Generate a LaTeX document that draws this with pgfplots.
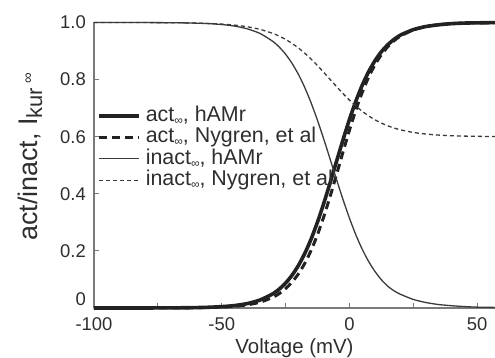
\documentclass[border=0pt]{standalone}
\usepackage{fontspec}
\setmainfont{Liberation Sans}
\usepackage{pgfplots}
\usepackage{pgfplotstable}
\pgfplotsset{compat=1.18}

\definecolor{curvedark}{HTML}{222222}
\definecolor{curvethin}{HTML}{3A3A3A}
\definecolor{axisgray}{HTML}{7A7A7A}
\definecolor{txt}{HTML}{2E2E2E}

\newcommand{\infsub}{\raisebox{-3bp}{\fontsize{12}{12}\selectfont ∞}}

% steady-state activation / inactivation of I_Kur
\pgfplotstableread{
V      actH    actN    inactH  inactN
-100   0.0000  0.0000  1.0000  1.0000
-90    0.0000  0.0000  0.9999  0.9999
-80    0.0001  0.0001  0.9998  0.9997
-70    0.0004  0.0003  0.9993  0.9992
-65    0.0008  0.0005  0.9987  0.9987
-60    0.0014  0.0009  0.9977  0.9979
-55    0.0026  0.0017  0.9960  0.9966
-50    0.0047  0.0032  0.9929  0.9944
-45    0.0085  0.0059  0.9875  0.9908
-40    0.0154  0.0110  0.9779  0.9851
-35    0.0279  0.0203  0.9616  0.9760
-30    0.0497  0.0373  0.9340  0.9619
-27.5  0.0659  0.0503  0.9142  0.9523
-25    0.0871  0.0676  0.8890  0.9408
-22.5  0.1143  0.0901  0.8574  0.9270
-20    0.1484  0.1192  0.8190  0.9109
-17.5  0.1906  0.1561  0.7726  0.8924
-15    0.2414  0.2018  0.7185  0.8717
-12.5  0.3009  0.2568  0.6573  0.8490
-10    0.3677  0.3208  0.5904  0.8249
-7.5   0.4401  0.3923  0.5200  0.8000
-5     0.5150  0.4688  0.4487  0.7751
-2.5   0.5893  0.5468  0.3796  0.7510
0      0.6600  0.6225  0.3150  0.7283
2.5    0.7239  0.6927  0.2567  0.7076
5      0.7800  0.7549  0.2061  0.6891
7.5    0.8272  0.8081  0.1633  0.6730
10     0.8660  0.8520  0.1279  0.6592
12.5   0.8974  0.8872  0.0992  0.6477
15     0.9220  0.9149  0.0765  0.6381
17.5   0.9411  0.9363  0.0600  0.6304
20     0.9560  0.9526  0.0480  0.6240
25     0.9750  0.9741  0.0300  0.6149
30     0.9860  0.9859  0.0190  0.6092
35     0.9920  0.9924  0.0120  0.6056
40     0.9960  0.9959  0.0080  0.6034
45     0.9980  0.9978  0.0050  0.6021
50     0.9988  0.9988  0.0030  0.6013
57     0.9995  0.9995  0.0020  0.6006
}\kurtable

\begin{document}
\begin{tikzpicture}
\begin{axis}[
  name=ax,
  scale only axis,
  width=401bp, height=285.5bp,
  xmin=-100, xmax=57, ymin=0, ymax=1,
  clip=false,
  axis lines=left,
  axis line style={-, draw=axisgray, line width=1.3bp},
  xtick={-100,-50,0,50}, xticklabels={-100,-50,0,50},
  minor xtick={-75,-25,25},
  ytick={0,0.2,0.4,0.6,0.8,1},
  yticklabels={\raisebox{9bp}[\height][\depth]{0},0.2,0.4,0.6,0.8,1.0},
  tick align=inside,
  major tick length=5bp, minor tick length=5bp,
  every tick/.style={draw=axisgray, line width=1bp},
  xticklabel style={font=\fontsize{18.5}{18.5}\selectfont, text=txt, anchor=base, inner sep=0pt, yshift=-22bp},
  yticklabel style={font=\fontsize{18.5}{18.5}\selectfont, text=txt, anchor=east, inner sep=0pt, xshift=-8bp},
  every axis x label/.style={at={(axis description cs:0.5,0)}, anchor=base, yshift=-45bp,
    font=\fontsize{20.5}{20.5}\selectfont, text=txt},
  every axis y label/.style={at={(axis description cs:-0.142,0.529)}, rotate=90, anchor=base,
    font=\fontsize{27}{27}\selectfont, text=txt},
  xlabel={Voltage (mV)},
  ylabel={act/inact, I\raisebox{-5bp}{\fontsize{22}{22}\selectfont kur}\hspace{4bp}\raisebox{4.5bp}{\fontsize{15}{15}\selectfont ∞}},
  legend cell align=left,
  legend image code/.code={\draw[#1] (0bp,0bp) -- (40bp,0bp);},
  legend style={at={(axis description cs:0.0075,0.708)}, anchor=north west,
    draw=none, fill=none, inner sep=0pt, row sep=2bp, column sep=5bp,
    font=\fontsize{21.5}{21.5}\selectfont, text=txt,
    nodes={inner sep=0pt, text height=15bp, text depth=4.5bp, anchor=west}},
]
\addplot[curvedark, line width=3.6bp, smooth, tension=0.4] table[x=V, y=actH] {\kurtable};
\addlegendentry{act\infsub, hAMr}
\addplot[curvedark, line width=3bp, dash pattern=on 8bp off 5bp, smooth, tension=0.4] table[x=V, y=actN] {\kurtable};
\addlegendentry{act\infsub, Nygren, et al}
\addplot[curvethin, line width=1.3bp, smooth, tension=0.4] table[x=V, y=inactH] {\kurtable};
\addlegendentry{inact\infsub, hAMr}
\addplot[curvethin, line width=1.3bp, dash pattern=on 4bp off 3bp, smooth, tension=0.4] table[x=V, y=inactN] {\kurtable};
\addlegendentry{inact\infsub, Nygren, et al}
\end{axis}
\pgfresetboundingbox
\path[use as bounding box] ([shift={(-94bp,-50bp)}]ax.south west) rectangle ([shift={(0bp,22.5bp)}]ax.north east);
\end{tikzpicture}
\end{document}
